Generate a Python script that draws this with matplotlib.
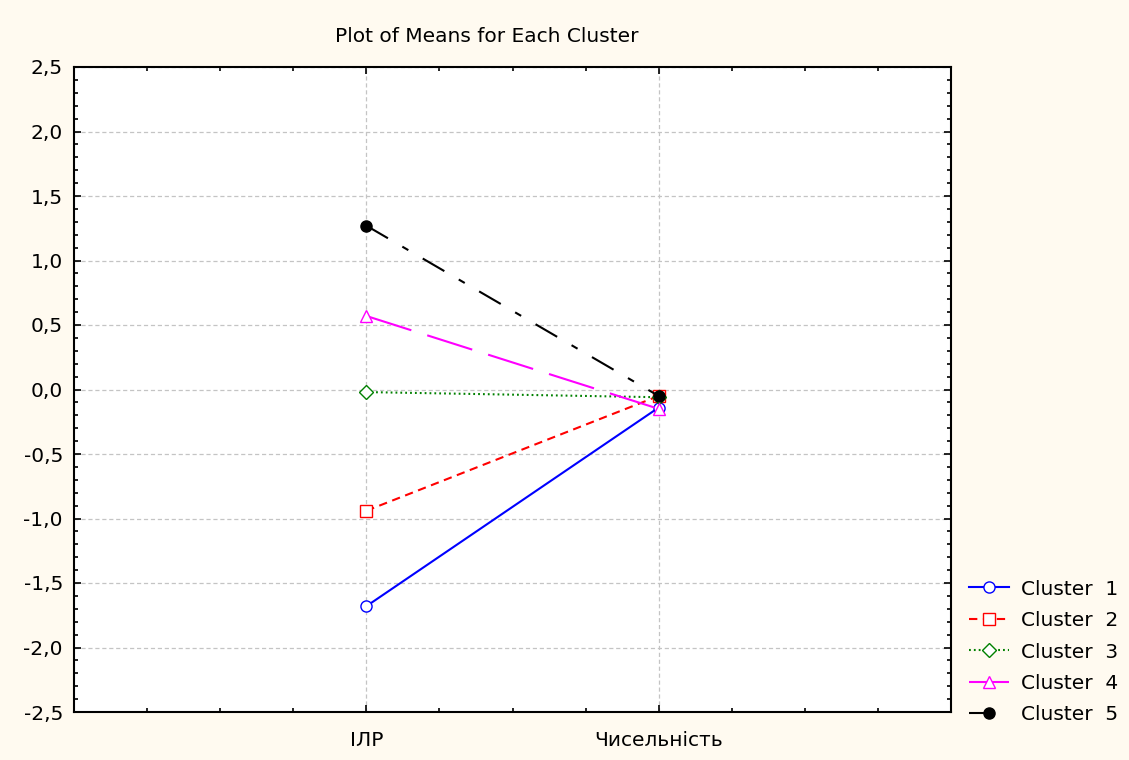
import matplotlib
matplotlib.use("Agg")
import matplotlib.pyplot as plt
from matplotlib.ticker import MultipleLocator, FixedLocator

plt.rcParams['font.family'] = ['DejaVu Sans']
plt.rcParams['lines.scale_dashes'] = False

variables = ["ІЛР", "Чисельність"]
cluster_names = ["Cluster  1", "Cluster  2", "Cluster  3", "Cluster  4", "Cluster  5"]
cluster1 = [-1.68, -0.14]
cluster2 = [-0.94, -0.05]
cluster3 = [-0.02, -0.06]
cluster4 = [0.57, -0.15]
cluster5 = [1.27, -0.05]
series = [cluster1, cluster2, cluster3, cluster4, cluster5]

colors = ["#0000ff", "#ff0000", "#008000", "#ff00ff", "#000000"]
markers = ["o", "s", "D", "^", "o"]
msizes = [8, 8, 7, 8, 8]
dashes = [None, (6, 4), (1.3, 2.2), (34, 12), (18, 12, 5, 12)]
faces = ["white", "white", "white", "white", "black"]

bg = "#fffaf0"
fig = plt.figure(figsize=(11.29, 7.6), dpi=100, facecolor=bg)
ax = fig.add_axes([74/1129, 48/760, 877/1129, 645/760])
ax.set_facecolor("white")

xpos = [1, 2]
handles = []
for vals, name, c, m, ms, d, fc in zip(series, cluster_names, colors, markers, msizes, dashes, faces):
    kw = {}
    if d is None:
        kw['linestyle'] = '-'
    else:
        kw['dashes'] = d
    ln, = ax.plot(xpos, vals, color=c, marker=m, markersize=ms, markerfacecolor=fc,
                  markeredgecolor=c, markeredgewidth=1.0, linewidth=1.5, label=name, **kw)
    handles.append(ln)

ax.set_xlim(0, 3)
ax.set_ylim(-2.5, 2.5)
ax.xaxis.set_major_locator(FixedLocator(xpos))
ax.set_xticklabels(variables)
ax.xaxis.set_minor_locator(MultipleLocator(0.25))
ax.yaxis.set_major_locator(MultipleLocator(0.5))
ax.yaxis.set_minor_locator(MultipleLocator(0.1))
ax.yaxis.set_major_formatter(matplotlib.ticker.FuncFormatter(lambda v, p: f"{v:.1f}".replace(".", ",").replace("-0,0", "0,0")))

ax.tick_params(which='both', direction='in', top=True, right=True, labelsize=14.5, color='black')
ax.tick_params(which='major', length=5, width=1.2)
ax.tick_params(which='minor', length=3, width=1.2)
ax.tick_params(axis='y', which='major', pad=8)
ax.tick_params(axis='x', which='major', pad=14)
for s in ax.spines.values():
    s.set_linewidth(1.5)
    s.set_color("black")

ax.grid(True, which='major', color="#c4c4c4", linestyle=(0, (3, 2)), linewidth=0.9)
ax.set_axisbelow(True)

fig.text(487/1129, 1 - 37/760, "Plot of Means for Each Cluster", ha='center', va='center', fontsize=14.5)

leg = fig.legend(handles=handles, loc='upper left', bbox_to_anchor=(963/1129, 1 - 573.5/760),
                 frameon=False, fontsize=14.5, handlelength=2.0, handletextpad=0.6,
                 labelspacing=0.62, borderaxespad=0, borderpad=0.3)

fig.savefig("out.png", dpi=100, facecolor=bg)
